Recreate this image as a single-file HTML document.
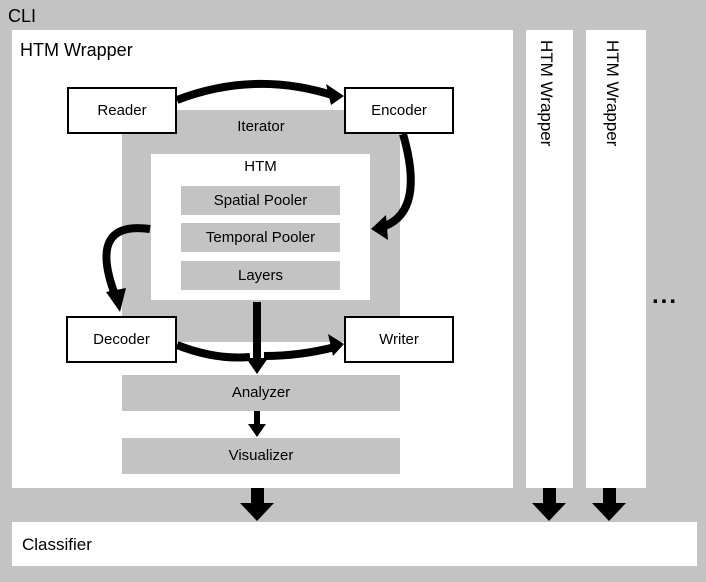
<!DOCTYPE html>
<html><head><style>
body{margin:0;width:706px;height:582px;background:#c3c3c3;font-family:"Liberation Sans",sans-serif;position:relative;overflow:hidden}
div{position:absolute;box-sizing:border-box}
.w{background:#fff}
.g{background:#c3c3c3}
.b{background:#fff;border:2px solid #000;text-align:center;font-size:15px}
.c{text-align:center;font-size:15px}
.v{writing-mode:vertical-rl;font-size:17px}
</style></head><body>
<div style="left:8px;top:6px;font-size:18px">CLI</div>
<div class="w" style="left:12px;top:30px;width:501px;height:458px"></div>
<div style="left:20px;top:40px;font-size:18px">HTM Wrapper</div>
<div class="w" style="left:526px;top:30px;width:47px;height:458px"></div>
<div class="w" style="left:586px;top:30px;width:60px;height:458px"></div>
<div class="v" style="left:536px;top:40px">HTM Wrapper</div>
<div class="v" style="left:602px;top:40px">HTM Wrapper</div>
<div style="left:652px;top:282px;font-size:24px;font-weight:bold;letter-spacing:2px">...</div>
<div class="w" style="left:12px;top:522px;width:685px;height:44px"></div>
<div style="left:22px;top:535px;font-size:17px">Classifier</div>

<div class="g" style="left:122px;top:110px;width:278px;height:232px"></div>
<div class="c" style="left:122px;top:118px;width:278px">Iterator</div>
<div class="w" style="left:151px;top:154px;width:219px;height:146px"></div>
<div class="c" style="left:151px;top:158px;width:219px">HTM</div>
<div class="g c" style="left:181px;top:186px;width:159px;height:29px;line-height:29px">Spatial Pooler</div>
<div class="g c" style="left:181px;top:223px;width:159px;height:29px;line-height:29px">Temporal Pooler</div>
<div class="g c" style="left:181px;top:261px;width:159px;height:29px;line-height:29px">Layers</div>
<div class="g c" style="left:122px;top:375px;width:278px;height:36px;line-height:36px">Analyzer</div>
<div class="g c" style="left:122px;top:438px;width:278px;height:36px;line-height:36px">Visualizer</div>

<svg style="position:absolute;left:0;top:0" width="706" height="582">
<g fill="none" stroke="#000" stroke-width="8">
<path d="M177 100 Q255 70 335 96"/>
<path d="M403 134 Q425 210 385 226"/>
<path d="M150 229 Q85 220 117 300"/>
<path d="M177 345 Q215 360 250 357 M264 356 Q300 356 335 347"/>
<path d="M257 302 L257 360"/>
</g>
<g fill="#000">
<polygon points="344,96 326,84 331,105"/>
<polygon points="371,229 386,215 388,240"/>
<polygon points="120,312 106,292 126,288"/>
<polygon points="344,344 328,334 333,356"/>
<polygon points="257,374 246,358 268,358"/>
<rect x="254" y="411" width="6" height="15"/><polygon points="257,437 248,424 266,424"/>
<rect x="251" y="488" width="13" height="16"/><polygon points="257,521 240,503 274,503"/>
<rect x="543" y="488" width="13" height="16"/><polygon points="549,521 532,503 566,503"/>
<rect x="603" y="488" width="13" height="16"/><polygon points="609,521 592,503 626,503"/>
</g>
</svg>
<div class="b" style="left:67px;top:87px;width:110px;height:47px;line-height:43px">Reader</div>
<div class="b" style="left:344px;top:87px;width:110px;height:47px;line-height:43px">Encoder</div>
<div class="b" style="left:66px;top:316px;width:111px;height:47px;line-height:43px">Decoder</div>
<div class="b" style="left:344px;top:316px;width:110px;height:47px;line-height:43px">Writer</div>
</body></html>
